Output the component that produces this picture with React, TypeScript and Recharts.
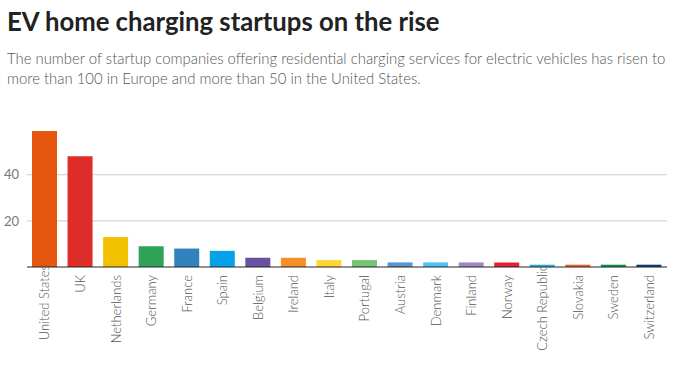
import React from "react";
import { BarChart, Bar, XAxis, YAxis, CartesianGrid, Cell } from "recharts";

const countries = [
    "United States",
    "UK",
    "Netherlands",
    "Germany",
    "France",
    "Spain",
    "Belgium",
    "Ireland",
    "Italy",
    "Portugal",
    "Austria",
    "Denmark",
    "Finland",
    "Norway",
    "Czech Republic",
    "Slovakia",
    "Sweden",
    "Switzerland",
];

const startups = [59, 48, 13, 9, 8, 7, 4, 4, 3, 3, 2, 2, 2, 2, 1, 1, 1, 1];

const yTicks = [20, 40];

const barColors = [
    "#e5560f",
    "#de2d28",
    "#f2c200",
    "#2fa357",
    "#3182bd",
    "#05a1e8",
    "#6a52a3",
    "#f68f28",
    "#fdd635",
    "#74c476",
    "#5899d3",
    "#4fc3f8",
    "#9c89c6",
    "#e4212e",
    "#29addf",
    "#f06120",
    "#0b9444",
    "#0c3e7c",
];

const data = countries.map((name, i) => ({ name, value: startups[i] }));

const FONT = "Lato, 'Open Sans', sans-serif";

function CountryTick(props: any) {
    const { x, y, payload } = props;
    const label: string = payload.value;
    // long names get nudged up so they fit in the bottom area
    const top = label.length > 12 ? y - 10 : y;
    return (
        <text
            x={x}
            y={top}
            dy="0.36em"
            transform={`rotate(-90, ${x}, ${top})`}
            textAnchor="end"
            fill="#555"
            fontSize={13}
            fontWeight={300}
            fontFamily={FONT}
        >
            {label}
        </text>
    );
}

export default function App() {
    return (
        <div
            style={{
                position: "absolute",
                left: 0,
                top: 0,
                width: 682,
                height: 370,
                background: "#fff",
                overflow: "hidden",
            }}
        >
            <BarChart
                width={682}
                height={370}
                data={data}
                margin={{ top: 131, right: 15, bottom: 0, left: 0 }}
            >
                <CartesianGrid
                    vertical={false}
                    horizontalValues={yTicks}
                    stroke="#cccccc"
                />
                <YAxis
                    width={27}
                    domain={[0, "dataMax"]}
                    ticks={yTicks}
                    axisLine={false}
                    tickLine={false}
                    tick={{ fontSize: 13, fill: "#777", fontFamily: FONT }}
                />
                <XAxis
                    dataKey="name"
                    height={103}
                    interval={0}
                    tickLine={false}
                    axisLine={{ stroke: "#222" }}
                    tick={<CountryTick />}
                />
                <Bar dataKey="value" barSize={25} isAnimationActive={false}>
                    {data.map((d, i) => (
                        <Cell key={d.name} fill={barColors[i]} />
                    ))}
                </Bar>
            </BarChart>
            <div
                style={{
                    position: "absolute",
                    left: 7,
                    top: 6,
                    fontFamily: FONT,
                    fontWeight: 700,
                    fontSize: 25.7,
                    lineHeight: "30px",
                    color: "#222",
                    whiteSpace: "nowrap",
                }}
            >
                EV home charging startups on the rise
            </div>
            <div
                style={{
                    position: "absolute",
                    left: 7,
                    top: 48,
                    fontFamily: FONT,
                    fontSize: 14.9,
                    fontWeight: 300,
                    lineHeight: "20px",
                    color: "#555",
                    whiteSpace: "nowrap",
                }}
            >
                The number of startup companies offering residential charging services for electric vehicles has risen to
                <br />
                more than 100 in Europe and more than 50 in the United States.
            </div>
        </div>
    );
}
